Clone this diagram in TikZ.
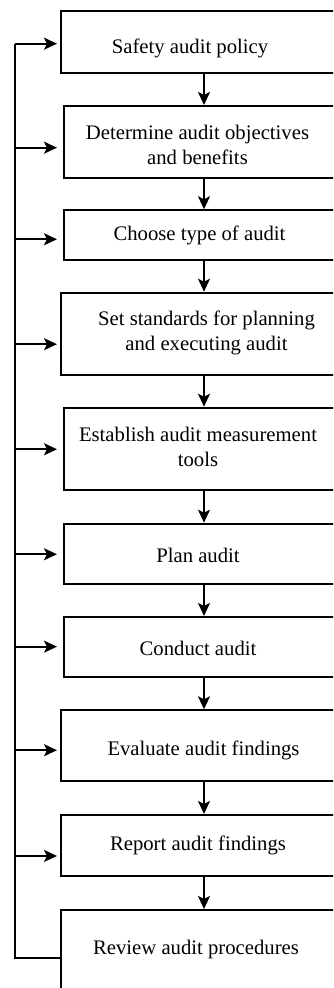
\documentclass[tikz,border=0pt]{standalone}
\usepackage{fontspec}
\setmainfont{Liberation Serif}
\usetikzlibrary{arrows.meta}
\begin{document}
\begin{tikzpicture}[x=1pt,y=-1pt,
  box/.style={draw, line width=1.9pt, rectangle, inner sep=0pt, anchor=north west, minimum width=285pt},
  lbl/.style={inner sep=0pt, font=\fontsize{20.7}{25}\selectfont, anchor=base, align=center},
  arr/.style={line width=1.8pt, -{Stealth[length=13pt,width=12pt,inset=3pt]}},
  rail/.style={line width=1.8pt}]
\clip (0,0) rectangle (333,988);
% process steps
\node[box, minimum height=61.7pt] (b1)  at (60,10)    {};
\node[box, minimum height=71.7pt] (b2)  at (62.7,105) {};
\node[box, minimum height=50pt]   (b3)  at (63,209.3) {};
\node[box, minimum height=82.3pt] (b4)  at (60,291.7) {};
\node[box, minimum height=82.6pt] (b5)  at (63,406.7) {};
\node[box, minimum height=60.6pt] (b6)  at (63,522.7) {};
\node[box, minimum height=60pt]   (b7)  at (63,616)   {};
\node[box, minimum height=70.7pt] (b8)  at (60,709.3) {};
\node[box, minimum height=61pt]   (b9)  at (60,814)   {};
\node[box, minimum height=100pt]  (b10) at (60,909)   {};
% labels
\node[lbl] (t1)  at (190,53.3)   {Safety audit policy};
\node[lbl] (t2)  at (197.5,164)  {Determine audit objectives\\and benefits};
\node[lbl] (t3)  at (199.5,240.7){Choose type of audit};
\node[lbl] (t4)  at (206.5,350)  {Set standards for planning\\and executing audit};
\node[lbl] (t5)  at (198,466.7)  {Establish audit measurement\\tools};
\node[lbl] (t6)  at (198,562.7)  {Plan audit};
\node[lbl] (t7)  at (198,655.7)  {Conduct audit};
\node[lbl] (t8)  at (203.5,755)  {Evaluate audit findings};
\node[lbl] (t9)  at (198,850)    {Report audit findings};
\node[lbl] (t10) at (196,954)    {Review audit procedures};
% main flow
\coordinate (spine) at (204,0);
\foreach \a/\b in {b1/b2,b2/b3,b3/b4,b4/b5,b5/b6,b6/b7,b7/b8,b8/b9,b9/b10}
  \draw[arr] (\a.south -| spine) -- (\b.north -| spine);
% feedback loop
\coordinate (rail) at (15,0);
\coordinate (fb) at ([yshift=-49.3pt]b10.north west);
\coordinate (a1) at ([yshift=-1.9pt]b1.west);
\coordinate (a2) at ([yshift=-5.9pt]b2.west);
\coordinate (a3) at ([yshift=-4pt]b3.west);
\coordinate (a4) at ([yshift=-10.4pt]b4.west);
\coordinate (a5) at ([yshift=-0.3pt]b5.west);
\coordinate (a6) at ([yshift=-0.3pt]b6.west);
\coordinate (a7) at ([yshift=0.3pt]b7.west);
\coordinate (a8) at ([yshift=-4.6pt]b8.west);
\coordinate (a9) at ([yshift=-10.5pt]b9.west);
\draw[rail] (fb) -- (rail |- fb) -- (rail |- a1);
\foreach \c/\s in {a1/3,a2/5.7,a3/6,a4/3,a5/6,a6/6,a7/6,a8/3,a9/3}
  \draw[arr, shorten >=\s pt] (rail |- \c) -- (\c);
\end{tikzpicture}
\end{document}
